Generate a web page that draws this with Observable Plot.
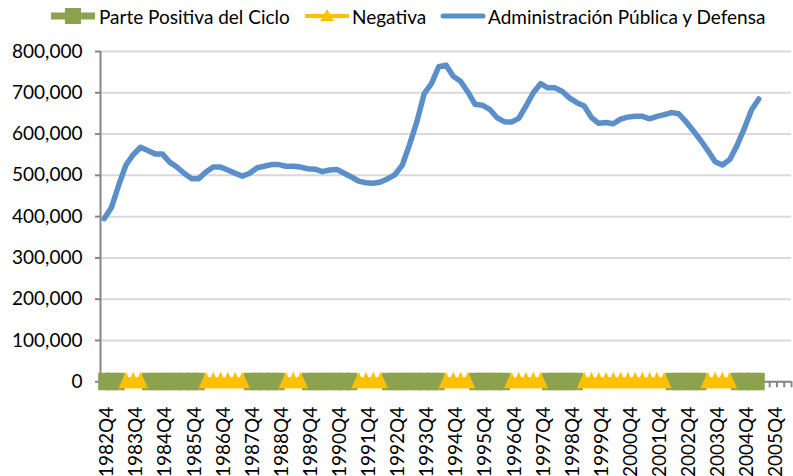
<!DOCTYPE html>
<html>
<head>
<meta charset="utf-8">
<script src="https://cdn.jsdelivr.net/npm/d3@7"></script>
<script src="https://cdn.jsdelivr.net/npm/@observablehq/plot@0.6"></script>
<style>
  html, body { margin: 0; padding: 0; background: #fff; }
  body { width: 793px; height: 476px; position: relative; overflow: hidden; font-family: Lato, "DejaVu Sans", sans-serif; }
  .item { position: absolute; top: 4px; height: 24px; display: flex; align-items: center; font-size: 19px; color: #000; white-space: nowrap; }
  .item svg { display: block; }
  #chart { position: absolute; left: 0; top: 30px; }
</style>
</head>
<body>
<div class="item" style="left:51px"><svg width="44" height="20"><rect x="0" y="6.5" width="44" height="7" fill="#8ca24e"/><rect x="14" y="2" width="16" height="16" fill="#8ca24e"/></svg><span style="margin-left:4px">Parte Positiva del Ciclo</span></div>
<div class="item" style="left:305px"><svg width="44" height="20"><rect x="0" y="8" width="44" height="4" fill="#ffc000"/><path d="M22,3 L29,15 L15,15 Z" fill="#ffc000"/></svg><span style="margin-left:3px">Negativa</span></div>
<div class="item" style="left:440px"><svg width="46" height="20"><line x1="3" y1="10" x2="43" y2="10" stroke="#5b8fc9" stroke-width="5" stroke-linecap="round"/></svg><span style="margin-left:2px">Administración Pública y Defensa</span></div>
<div id="chart"></div>
<script>
// Categories: quarters shown on the axis (1982Q4 .. 2006Q2)
const quarters = [
  "1982Q4",
  "1983Q1","1983Q2","1983Q3","1983Q4",
  "1984Q1","1984Q2","1984Q3","1984Q4",
  "1985Q1","1985Q2","1985Q3","1985Q4",
  "1986Q1","1986Q2","1986Q3","1986Q4",
  "1987Q1","1987Q2","1987Q3","1987Q4",
  "1988Q1","1988Q2","1988Q3","1988Q4",
  "1989Q1","1989Q2","1989Q3","1989Q4",
  "1990Q1","1990Q2","1990Q3","1990Q4",
  "1991Q1","1991Q2","1991Q3","1991Q4",
  "1992Q1","1992Q2","1992Q3","1992Q4",
  "1993Q1","1993Q2","1993Q3","1993Q4",
  "1994Q1","1994Q2","1994Q3","1994Q4",
  "1995Q1","1995Q2","1995Q3","1995Q4",
  "1996Q1","1996Q2","1996Q3","1996Q4",
  "1997Q1","1997Q2","1997Q3","1997Q4",
  "1998Q1","1998Q2","1998Q3","1998Q4",
  "1999Q1","1999Q2","1999Q3","1999Q4",
  "2000Q1","2000Q2","2000Q3","2000Q4",
  "2001Q1","2001Q2","2001Q3","2001Q4",
  "2002Q1","2002Q2","2002Q3","2002Q4",
  "2003Q1","2003Q2","2003Q3","2003Q4",
  "2004Q1","2004Q2","2004Q3","2004Q4",
  "2005Q1","2005Q2","2005Q3","2005Q4",
  "2006Q1","2006Q2"
];

// Administración Pública y Defensa (1982Q4 .. 2005Q2)
const defensa = [
  395000, 422000, 476000, 525000, 550000, 568000, 560000, 552000, 552000, 532000,
  520000, 505000, 492000, 492000, 508000, 520000, 520000, 513000, 505000, 498000,
  505000, 518000, 522000, 526000, 526000, 522000, 522000, 520000, 516000, 515000,
  509000, 513000, 514000, 505000, 496000, 486000, 482000, 481000, 484000, 492000,
  502000, 525000, 575000, 630000, 698000, 722000, 763000, 767000, 740000, 728000,
  702000, 672000, 670000, 660000, 640000, 630000, 629000, 638000, 668000, 700000,
  722000, 712000, 712000, 703000, 687000, 676000, 668000, 640000, 626000, 628000,
  625000, 636000, 641000, 643000, 643000, 637000, 643000, 647000, 652000, 649000,
  630000, 608000, 585000, 560000, 533000, 525000, 538000, 572000, 613000, 658000,
  685000
];

// Cycle phase per quarter: 1 = Parte Positiva del Ciclo, 0 = Negativa
const ciclo = [
  1,1,1, 0,0,0, 1,1,1,1,1,1,1,1, 0,0,0,0,0,0, 1,1,1,1,1, 0,0,0,
  1,1,1,1,1,1,1, 0,0,0,0, 1,1,1,1,1,1,1,1, 0,0,0,0, 1,1,1,1,1,
  0,0,0,0,0, 1,1,1,1,1, 0,0,0,0,0,0,0,0,0,0,0,0, 1,1,1,1,1,
  0,0,0,0, 1,1,1,1
];

const yTicks = [0, 100000, 200000, 300000, 400000, 500000, 600000, 700000, 800000];
const labelIdx = quarters.map((q, i) => i).filter(i => i % 4 === 0);
const boundaries = d3.range(-0.5, quarters.length, 1);

const data = defensa.map((v, i) => ({ i, v, pos: ciclo[i] === 1, zero: 0 }));
let run = 0;
data.forEach((d, k) => { if (k > 0 && d.pos !== data[k - 1].pos) run++; d.run = run; });
const green = data.filter(d => d.pos);
const yellow = data.filter(d => !d.pos);

const squareSym = { draw(ctx) { ctx.rect(-6, -9, 12, 17.5); } };
const triSym = { draw(ctx) { ctx.moveTo(0, -10); ctx.lineTo(7.5, 6.5); ctx.lineTo(-7.5, 6.5); ctx.closePath(); } };

const chart = Plot.plot({
  width: 793,
  height: 446,
  marginLeft: 100,
  marginRight: 2,
  marginTop: 21,
  marginBottom: 94.75,
  x: { type: "linear", domain: [-0.5, quarters.length - 0.5] },
  y: { domain: [0, 800000] },
  style: { fontFamily: "Lato, 'DejaVu Sans', sans-serif", fontSize: "19px", color: "#000", background: "#fff", overflow: "visible" },
  marks: [
    Plot.gridY({ ticks: yTicks, stroke: "#d9d9d9", strokeOpacity: 1, strokeWidth: 2 }),
    Plot.axisY({ ticks: yTicks, tickSize: 5, tickPadding: 13, tickFormat: d3.format(","), stroke: "#868686", strokeWidth: 2, label: null, fontSize: 19, fill: "#000" }),
    Plot.axisX({ ticks: boundaries, tickSize: 6, tickFormat: () => "", stroke: "#868686", strokeWidth: 2, label: null }),
    Plot.axisX({ ticks: labelIdx, tickSize: 0, tickPadding: 25, tickRotate: -90, tickFormat: i => quarters[i], label: null, fontSize: 19, fill: "#000", dx: 3 }),
    Plot.ruleX([-0.5], { stroke: "#868686", strokeWidth: 2 }),
    Plot.ruleY([0], { stroke: "#868686", strokeWidth: 2 }),
    Plot.dot(green, { x: "i", y: "zero", symbol: squareSym, fill: "#8ca24e", stroke: null }),
    Plot.line(yellow, { x: "i", y: "zero", z: "run", stroke: "#ffc000", strokeWidth: 9, strokeLinecap: "butt" }),
    Plot.dot(yellow, { x: "i", y: "zero", symbol: triSym, fill: "#ffc000", stroke: null }),
    Plot.line(data, { x: "i", y: "v", stroke: "#5b8fc9", strokeWidth: 5.5, strokeLinejoin: "round", strokeLinecap: "round" })
  ]
});
document.getElementById("chart").appendChild(chart);
</script>
</body>
</html>
